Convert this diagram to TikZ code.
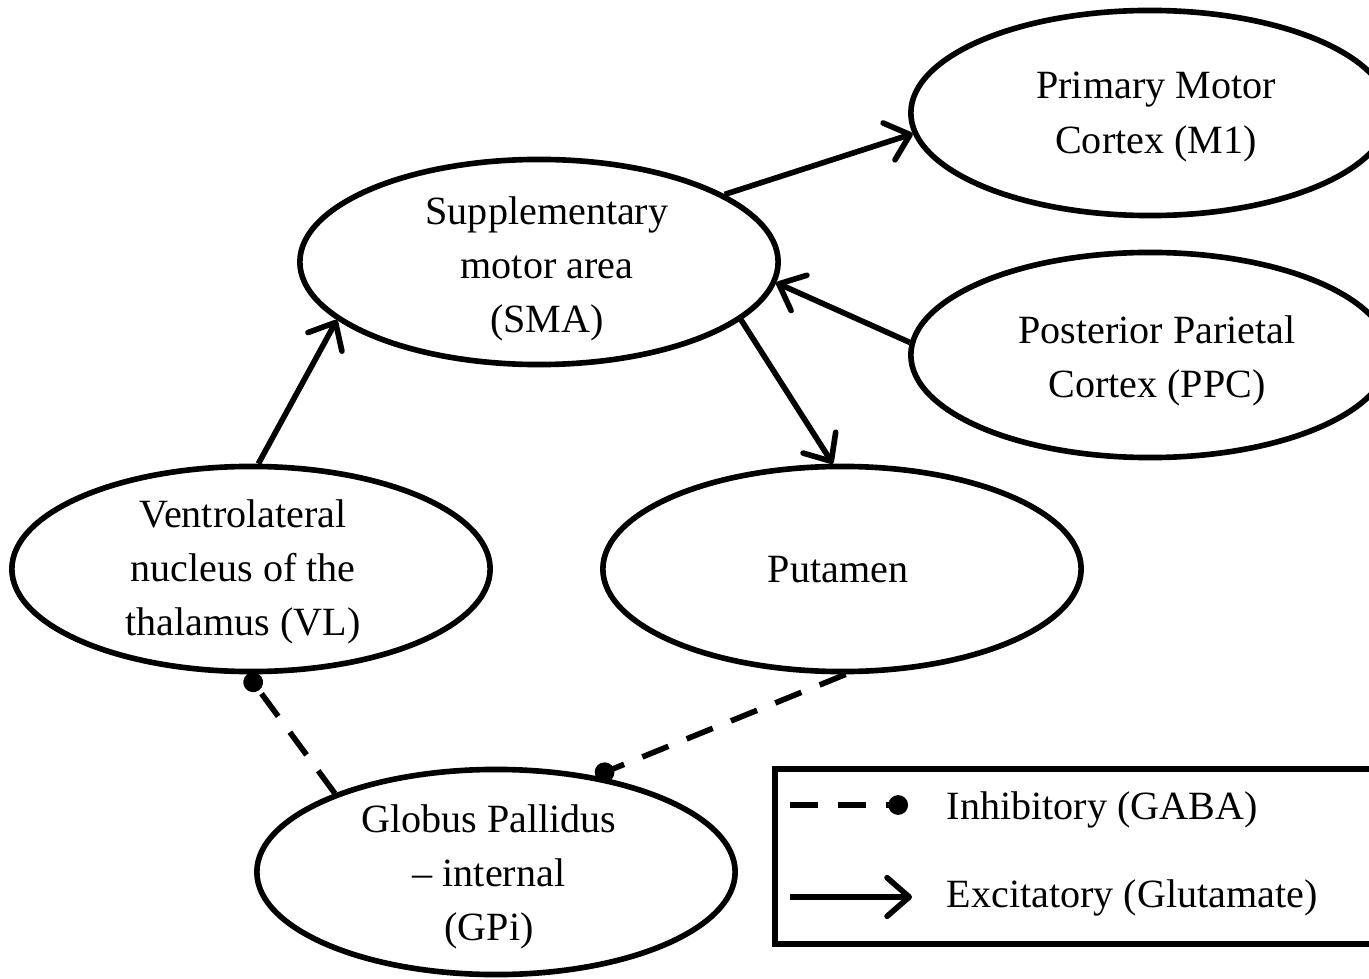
\documentclass[tikz,border=0pt]{standalone}
\usepackage{fontspec}
\setmainfont{Liberation Serif}
\usetikzlibrary{shapes.geometric,arrows.meta}
\tikzset{
  region/.style={ellipse, draw, line width=1.6pt, minimum width=4.78cm, minimum height=2.05cm,
    inner sep=0pt},
  rtext/.style={inner sep=0pt, align=center, font=\fontsize{11.4}{15.4}\selectfont},
  exc/.style={line width=1.6pt, -{Straight Barb[length=6.3pt,width=11pt,round]}},
  inh/.style={line width=1.6pt, dash pattern=on 8pt off 5.6pt, -{Circle[length=5.6pt]}},
  legtext/.style={anchor=west, inner sep=0pt, font=\fontsize{11.4}{15.4}\selectfont},
}
\begin{document}
\begin{tikzpicture}[x=0.01cm,y=-0.01cm]
\useasboundingbox (0,0) rectangle (1369,979);
\clip (0,0) rectangle (1369,979);
\node[region] (m1)  at (1150,113) {};
\node[region] (sma) at (539,262)  {};
\node[region] (ppc) at (1150,355) {};
\node[region] (vl)  at (251,569)  {};
\node[region] (put) at (842,569)  {};
\node[region] (gpi) at (496,872)  {};
\node[rtext] (m1t)  at (1156,117) {Primary Motor\\Cortex (M1)};
\node[rtext] (smat) at (547,269)  {Supplementary\\motor area\\(SMA)};
\node[rtext] (ppct) at (1157,361) {Posterior Parietal\\Cortex (PPC)};
\node[rtext] (vlt)  at (243,572)  {Ventrolateral\\nucleus of the\\thalamus (VL)};
\node[rtext] (putt) at (838,570)  {Putamen};
\node[rtext] (gpit) at (489,877)  {Globus Pallidus\\– internal\\(GPi)};
\draw[exc] (sma.20) -- (m1.185);
\draw[exc] (ppc.177) -- (sma.-5);
\draw[exc] (sma.-16) -- (put.95);
\draw[exc] (vl.86) -- (sma.196);
\draw[inh] (gpi.154) -- (vl.268);
\draw[inh] (put.272) -- (gpi.44);
% legend
\draw[line width=1.8pt] (775,769) rectangle (1400,944);
\coordinate (li1) at (790,805);
\coordinate (li2) at (908,805);
\coordinate (le1) at (790,897);
\coordinate (le2) at (912,897);
\draw[inh] (li1) -- (li2);
\draw[exc] (le1) -- (le2);
\node[legtext] (lt1) at (946,810) {Inhibitory (GABA)};
\node[legtext] (lt2) at (946,898) {Excitatory (Glutamate)};
\end{tikzpicture}
\end{document}
